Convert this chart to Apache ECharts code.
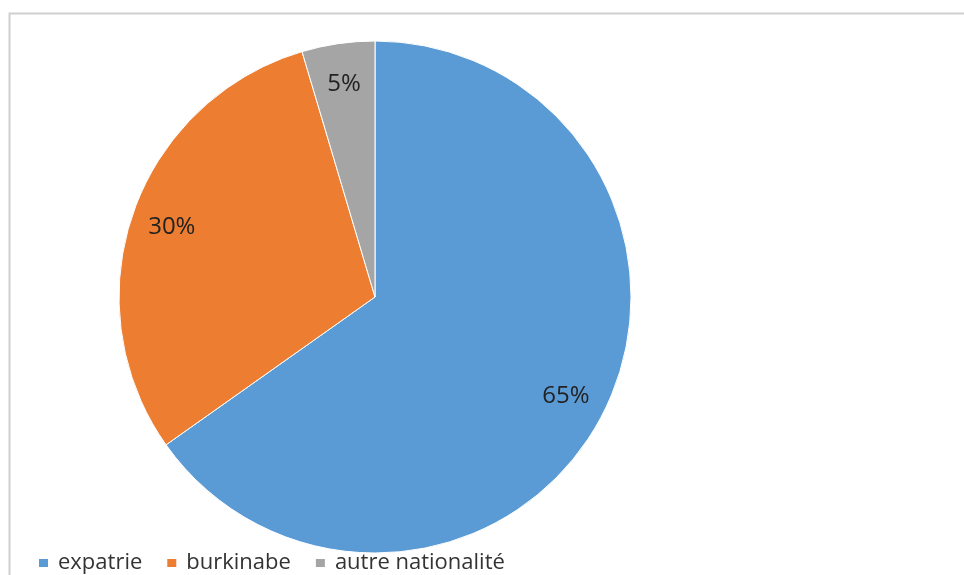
<!DOCTYPE html>
<html><head><meta charset="utf-8">
<script src="https://cdn.jsdelivr.net/npm/echarts@6/dist/echarts.min.js"></script>
<style>html,body{margin:0;padding:0;background:#fff}#c{width:964px;height:575px}</style>
</head><body><div id="c"></div>
<script>
const categories = ['expatrie', 'burkinabe', 'autre nationalité'];
const values = [65.2, 30.2, 4.6];
const colors = ['#5B9BD5', '#ED7D31', '#A5A5A5'];

const data = categories.map((n, i) => ({ name: n, value: values[i], itemStyle: { color: colors[i] } }));
const labelData = categories.map((n, i) => ({ name: n, value: values[i] }));

const chart = echarts.init(document.getElementById('c'), null, { renderer: 'canvas' });
chart.setOption({
  animation: false,
  backgroundColor: '#fff',
  graphic: [{
    type: 'rect', left: 7, top: 11, silent: true,
    shape: { width: 1000, height: 600 },
    style: { fill: 'none', stroke: '#d0d0d0', lineWidth: 2 }
  }],
  legend: {
    data: categories,
    left: 32, top: 547,
    orient: 'horizontal',
    icon: 'rect', itemWidth: 11, itemHeight: 10, itemGap: 23,
    textStyle: { fontFamily: 'Open Sans', fontSize: 22, color: '#333333', padding: [0, 0, 0, 4] },
    selectedMode: false
  },
  series: [{
    type: 'pie',
    center: [375, 297],
    radius: [0, 256],
    startAngle: 90,
    clockwise: true,
    silent: true,
    data: data,
    itemStyle: { borderColor: '#fff', borderWidth: 1 },
    label: { show: false },
    labelLine: { show: false }
  }, {
    type: 'pie',
    center: [375, 297],
    radius: [0, 424],
    startAngle: 90,
    clockwise: true,
    silent: true,
    z: 5,
    data: labelData,
    itemStyle: { color: 'rgba(0,0,0,0)' },
    label: {
      show: true, position: 'inside',
      formatter: p => Math.round(p.percent) + '%',
      fontFamily: 'Open Sans', fontSize: 24, color: '#222222'
    },
    labelLine: { show: false },
    emphasis: { disabled: true }
  }]
});
</script></body></html>
